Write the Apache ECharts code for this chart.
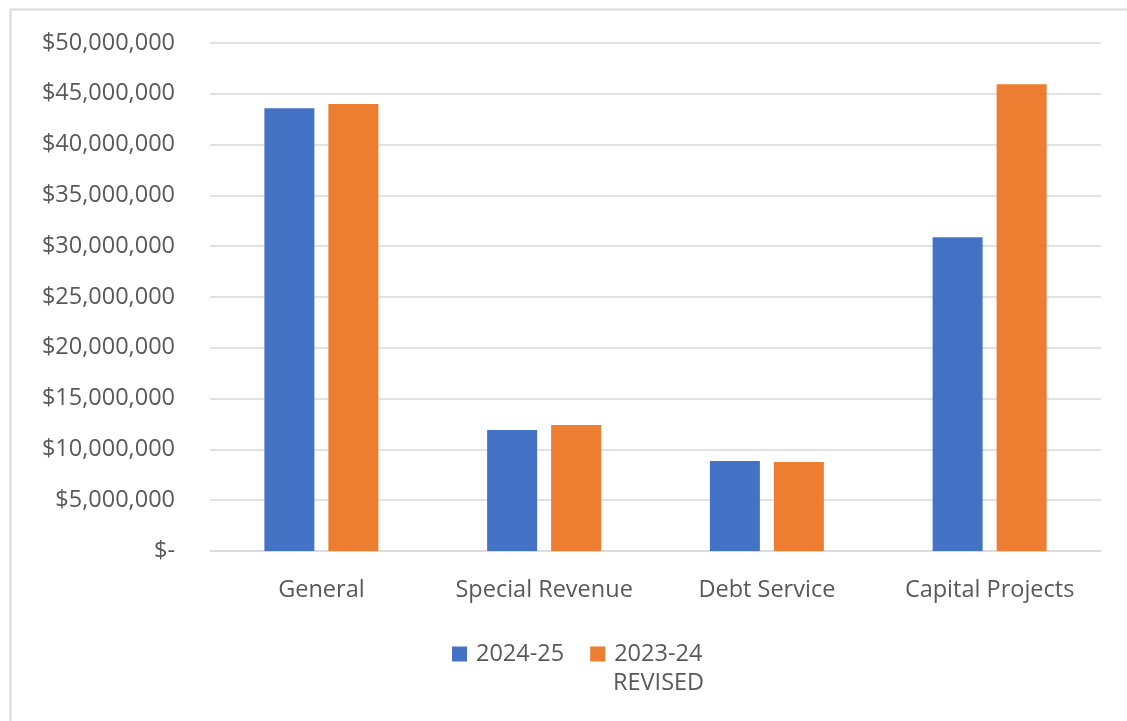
<!DOCTYPE html>
<html>
<head>
<meta charset="utf-8">
<script src="https://cdn.jsdelivr.net/npm/echarts@6/dist/echarts.min.js"></script>
<style>
html,body{margin:0;padding:0;background:#fff;}
#chart{width:1127px;height:721px;}
</style>
</head>
<body>
<div id="chart"></div>
<script>
var categories = ['General', 'Special Revenue', 'Debt Service', 'Capital Projects'];
var series2024 = [43570000, 11900000, 8860000, 30880000];
var series2023 = [44000000, 12400000, 8760000, 45930000];
var seriesNames = ['2024-25', '2023-24\nREVISED'];
var yTicks = [0, 5000000, 10000000, 15000000, 20000000, 25000000, 30000000, 35000000, 40000000, 45000000, 50000000];

function fmt(v) {
  if (v === 0) return '$-';
  return '$' + v.toString().replace(/\B(?=(\d{3})+(?!\d))/g, ',');
}

var chart = echarts.init(document.getElementById('chart'), null, {renderer: 'canvas'});
var font = 'Open Sans';
var fs = 23.5;
chart.setOption({
  animation: false,
  backgroundColor: '#ffffff',
  graphic: [{
    type: 'rect', left: 8, top: 7,
    shape: {width: 1140, height: 730},
    style: {fill: 'none', stroke: '#d9d9d9', lineWidth: 2}
  }, {
    type: 'text', left: 613, top: 671,
    style: {text: seriesNames[1].split('\n')[1], font: fs + 'px "' + font + '"', fill: '#595959'}
  }],
  grid: {left: 210, right: 26, top: 43, bottom: 170},
  legend: {
    data: seriesNames,
    left: 447, top: 637,
    itemWidth: 15, itemHeight: 15,
    itemGap: 26,
    icon: 'rect',
    formatter: function (n) { return n.split('\n')[0]; },
    textStyle: {fontFamily: font, fontSize: fs, color: '#595959', padding: [0, 0, 0, 4]}
  },
  xAxis: {
    type: 'category',
    data: categories,
    axisLine: {lineStyle: {color: '#d9d9d9', width: 1.5}},
    axisTick: {show: false},
    axisLabel: {fontFamily: font, fontSize: fs, color: '#595959', margin: 27, interval: 0, hideOverlap: false}
  },
  yAxis: {
    type: 'value',
    min: 0, max: 50000000, interval: 5000000,
    axisLine: {show: false},
    axisTick: {show: false},
    splitLine: {lineStyle: {color: '#d9d9d9', width: 1.5}},
    axisLabel: {
      fontFamily: font, fontSize: fs, color: '#595959', margin: 35,
      formatter: function (v) { return fmt(v); }
    }
  },
  series: [{
    name: seriesNames[0], type: 'bar', data: series2024,
    barWidth: 50, barGap: '28%',
    itemStyle: {color: '#4472c4'}
  }, {
    name: seriesNames[1], type: 'bar', data: series2023,
    barWidth: 50,
    itemStyle: {color: '#ed7d31'}
  }]
});
</script>
</body>
</html>
